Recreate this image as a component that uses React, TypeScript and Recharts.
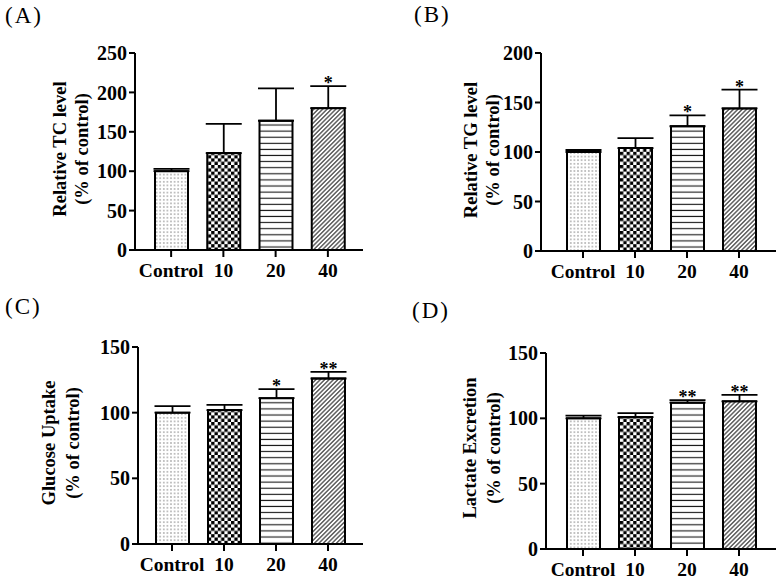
import React from "react";
import { Bar, BarChart, Cell, ErrorBar, LabelList, XAxis, YAxis } from "recharts";

const FONT = "'Liberation Serif', 'Times New Roman', Times, serif";

// dose groups shared by all four panels
const groups = ["Control", "10", "20", "40"];

// (A) total cholesterol
const tcMean = [100, 123, 164, 180];
const tcErr = [3, 37, 41, 28];
const tcMarks = ["", "", "", "*"];
const tcTicks = [0, 50, 100, 150, 200, 250];

// (B) triglyceride
const tgMean = [100, 104, 126, 144];
const tgErr = [2, 10, 11, 19];
const tgMarks = ["", "", "*", "*"];
const tgTicks = [0, 50, 100, 150, 200];

// (C) glucose uptake
const gluMean = [100, 102, 111, 126];
const gluErr = [5, 4, 7, 5];
const gluMarks = ["", "", "*", "**"];
const gluTicks = [0, 50, 100, 150];

// (D) lactate excretion
const lacMean = [100, 101, 112, 113];
const lacErr = [2, 3, 2, 5];
const lacMarks = ["", "", "**", "**"];
const lacTicks = [0, 50, 100, 150];

type Row = { group: string; mean: number; err: [number, number]; mark: string };

const buildRows = (means: number[], errs: number[], marks: string[]): Row[] =>
  groups.map((g, i) => ({ group: g, mean: means[i], err: [0, errs[i]], mark: marks[i] }));

const fills = ["dots", "checker", "hlines", "diag"];

function Patterns({ id }: { id: string }) {
  return (
    <defs>
      <pattern id={`${id}-dots`} width="3.6" height="3.6" patternUnits="userSpaceOnUse">
        <rect width="3.6" height="3.6" fill="#fff" />
        <circle cx="1.8" cy="1.8" r="0.75" fill="#6e6e6e" />
      </pattern>
      <pattern id={`${id}-checker`} width="6.6" height="6.6" patternUnits="userSpaceOnUse">
        <rect width="6.6" height="6.6" fill="#fff" />
        <rect width="3.3" height="3.3" fill="#000" />
        <rect x="3.3" y="3.3" width="3.3" height="3.3" fill="#000" />
      </pattern>
      <pattern id={`${id}-hlines`} width="6" height="6.1" patternUnits="userSpaceOnUse">
        <rect width="6" height="6.1" fill="#fff" />
        <line x1="0" y1="3" x2="6" y2="3" stroke="#111" strokeWidth="1.1" />
      </pattern>
      <pattern
        id={`${id}-diag`}
        width="3.1"
        height="3.1"
        patternUnits="userSpaceOnUse"
        patternTransform="rotate(45)"
      >
        <rect width="3.1" height="3.1" fill="#fff" />
        <line x1="1.55" y1="0" x2="1.55" y2="3.1" stroke="#111" strokeWidth="1" />
      </pattern>
    </defs>
  );
}

function AxisTitle({ lines, xs, cy }: { lines: string[]; xs: number[]; cy: number }) {
  return (
    <g>
      {lines.map((t, i) => (
        <text
          key={t}
          x={xs[i]}
          y={cy}
          transform={`rotate(-90, ${xs[i]}, ${cy})`}
          textAnchor="middle"
          dominantBaseline="central"
          fontFamily={FONT}
          fontWeight={700}
          fontSize={18.5}
          fill="#000"
        >
          {t}
        </text>
      ))}
    </g>
  );
}

type PanelProps = {
  id: string;
  letter: string;
  letterX: number;
  letterY: number;
  left: number;
  top: number;
  rows: Row[];
  yTicks: number[];
  plot: { left: number; top: number; right: number; bottom: number };
  pad: { left: number; right: number };
  title: string[];
  titleXs: number[];
  titleCy: number;
};

function Panel(p: PanelProps) {
  const W = 389;
  const H = 290;
  const xAxisH = 35;
  const renderMark = (props: any) => {
    const { x, y, width, height, value, index } = props;
    if (!value) return null;
    const r = p.rows[index];
    const capY = y - (r.err[1] / r.mean) * height;
    return (
      <text
        x={x + width / 2}
        y={capY + 3}
        textAnchor="middle"
        fontFamily={FONT}
        fontWeight={700}
        fontSize={18}
        fill="#000"
      >
        {value}
      </text>
    );
  };
  return (
    <div style={{ position: "absolute", left: p.left, top: p.top, width: W, height: H }}>
      <div
        style={{
          position: "absolute",
          left: p.letterX,
          top: p.letterY,
          fontFamily: FONT,
          fontSize: 23,
          letterSpacing: 2,
          lineHeight: "24px",
          color: "#000",
        }}
      >
        {p.letter}
      </div>
      <BarChart
        width={W}
        height={H}
        data={p.rows}
        barSize={33}
        margin={{
          top: p.plot.top,
          left: 0,
          right: W - p.plot.right,
          bottom: H - p.plot.bottom - xAxisH,
        }}
      >
        <Patterns id={p.id} />
        <XAxis
          dataKey="group"
          height={xAxisH}
          padding={{ left: p.pad.left, right: p.pad.right }}
          axisLine={{ stroke: "#000", strokeWidth: 2 }}
          tickLine={{ stroke: "#000", strokeWidth: 2 }}
          tickSize={7}
          tickMargin={6}
          interval={0}
          tick={{ fill: "#000", fontSize: 19.5, fontWeight: 700, fontFamily: FONT }}
        />
        <YAxis
          width={p.plot.left}
          domain={[0, p.yTicks[p.yTicks.length - 1]]}
          ticks={p.yTicks}
          interval={0}
          axisLine={{ stroke: "#000", strokeWidth: 2 }}
          tickLine={{ stroke: "#000", strokeWidth: 2 }}
          tickSize={6}
          tickMargin={2}
          tick={{ fill: "#000", fontSize: 20, fontWeight: 700, fontFamily: FONT }}
          label={<AxisTitle lines={p.title} xs={p.titleXs} cy={p.titleCy} />}
        />
        <Bar dataKey="mean" stroke="#000" strokeWidth={2} isAnimationActive={false}>
          {p.rows.map((r, i) => (
            <Cell key={r.group} fill={`url(#${p.id}-${fills[i]})`} />
          ))}
          <ErrorBar dataKey="err" direction="y" width={18} stroke="#000" strokeWidth={1.8} />
          <LabelList dataKey="mark" content={renderMark} />
        </Bar>
      </BarChart>
    </div>
  );
}

export default function App() {
  return (
    <div
      style={{
        position: "absolute",
        left: 0,
        top: 0,
        width: 778,
        height: 579,
        background: "#fff",
        overflow: "hidden",
      }}
    >
      <Panel
        id="pa"
        letter="(A)"
        letterX={5}
        letterY={4}
        left={0}
        top={0}
        rows={buildRows(tcMean, tcErr, tcMarks)}
        yTicks={tcTicks}
        plot={{ left: 135, top: 53, right: 363, bottom: 250 }}
        pad={{ left: 10, right: 9 }}
        title={["Relative TC level", "(% of control)"]}
        titleXs={[60, 82]}
        titleCy={149}
      />
      <Panel
        id="pb"
        letter="(B)"
        letterX={25}
        letterY={3}
        left={389}
        top={0}
        rows={buildRows(tgMean, tgErr, tgMarks)}
        yTicks={tgTicks}
        plot={{ left: 152, top: 53, right: 387, bottom: 251 }}
        pad={{ left: 16, right: 11 }}
        title={["Relative TG level", "(% of control)"]}
        titleXs={[82, 104]}
        titleCy={150}
      />
      <Panel
        id="pc"
        letter="(C)"
        letterX={5}
        letterY={5}
        left={0}
        top={290}
        rows={buildRows(gluMean, gluErr, gluMarks)}
        yTicks={gluTicks}
        plot={{ left: 138, top: 57, right: 363, bottom: 254 }}
        pad={{ left: 8, right: 9 }}
        title={["Glucose Uptake", "(% of control)"]}
        titleXs={[49, 73]}
        titleCy={153}
      />
      <Panel
        id="pd"
        letter="(D)"
        letterX={23}
        letterY={9}
        left={389}
        top={290}
        rows={buildRows(lacMean, lacErr, lacMarks)}
        yTicks={lacTicks}
        plot={{ left: 157, top: 63, right: 387, bottom: 259 }}
        pad={{ left: 11, right: 11 }}
        title={["Lactate Excretion", "(% of control)"]}
        titleXs={[81, 105]}
        titleCy={158}
      />
    </div>
  );
}
